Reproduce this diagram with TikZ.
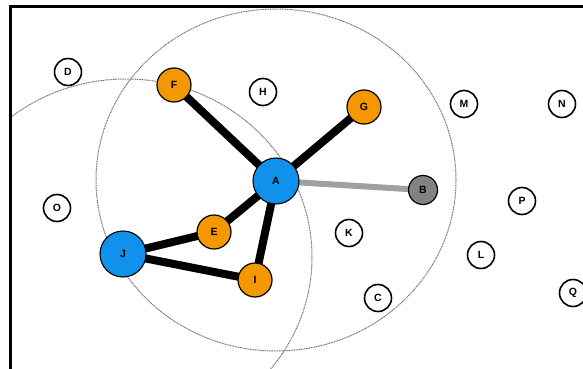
\documentclass[tikz,border=0pt]{standalone}
\usepackage{fontspec}
\setmainfont{Liberation Sans}
\pgfdeclarelayer{background}
\pgfsetlayers{background,main}
\begin{document}
\begin{tikzpicture}[x=1pt,y=-1pt,
  base/.style={circle,draw=black,line width=1.6pt,inner sep=0pt,font=\fontsize{10.5}{10.5}\selectfont\bfseries},
  plain/.style={base,fill=white,minimum size=27pt},
  orange/.style={base,line width=1.2pt,fill={rgb,255:red,243;green,152;blue,0},minimum size=34pt},
  blue/.style={base,line width=1.1pt,fill={rgb,255:red,16;green,145;blue,235},minimum size=46pt},
  grey/.style={base,line width=1.2pt,fill={rgb,255:red,130;green,130;blue,130},minimum size=29pt},
  link/.style={line width=8pt,black},
  glink/.style={line width=6pt,color={rgb,255:red,160;green,160;blue,160}},
  ring/.style={draw={rgb,255:red,110;green,110;blue,110},line width=1pt,dash pattern=on 1pt off 0.7pt}]
\useasboundingbox (0,0) rectangle (583,369);
\begin{scope}
\clip (10,7) rectangle (583,369);
\draw[ring] (276,180) ellipse [x radius=180, y radius=171];
\draw[ring] (126,257) ellipse [x radius=186, y radius=178];
\end{scope}
\draw[line width=3pt] (10,369) -- (10,7) -- (583,7);
% nodes
\node[plain] (D) at (68,72) {D};
\node[plain] (H) at (263,92) {H};
\node[plain] (M) at (464,104) {M};
\node[plain] (N) at (562,104) {N};
\node[plain] (O) at (57,208) {O};
\node[plain] (P) at (522,201) {P};
\node[plain] (K) at (349,233) {K};
\node[plain] (L) at (481,255) {L};
\node[plain] (C) at (378,298) {C};
\node[plain] (Q) at (573,293) {Q};
\node[orange] (F) at (174,85) {F};
\node[orange] (G) at (364,107) {G};
\node[orange] (E) at (214,232) {E};
\node[orange] (I) at (255,280) {I};
\node[grey] (B) at (423,190) {B};
\node[blue] (A) at (276,181) {A};
\node[blue] (J) at (123,254) {J};
% edges drawn behind nodes
\begin{pgfonlayer}{background}
\draw[glink] (A.center) -- (B.center);
\draw[link] (A.center) -- (F.center);
\draw[link] (A.center) -- (G.center);
\draw[link] (A.center) -- (E.center);
\draw[link] (A.center) -- (I.center);
\draw[link] (J.center) -- (E.center);
\draw[link] (J.center) -- (I.center);
\end{pgfonlayer}
\end{tikzpicture}
\end{document}
